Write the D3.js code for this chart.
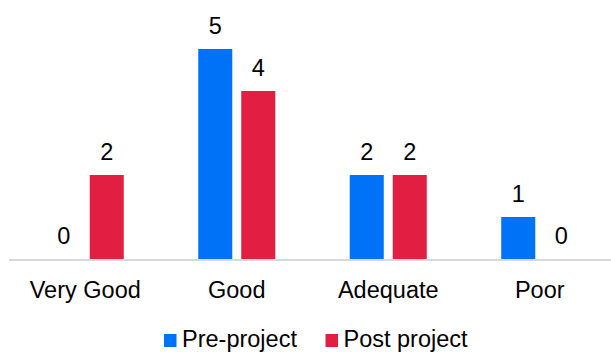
<!DOCTYPE html>
<html>
<head>
<meta charset="utf-8">
<script src="https://cdn.jsdelivr.net/npm/d3@7"></script>
<style>
  body { margin: 0; background: #fff; }
  svg { display: block; font-family: "Liberation Sans", Arial, sans-serif; }
</style>
</head>
<body>
<div id="vis"></div>
<script>
var categories = ['Very Good', 'Good', 'Adequate', 'Poor'];
var seriesNames = ['Pre-project', 'Post project'];
var preProject = [0, 5, 2, 1];
var postProject = [2, 4, 2, 0];
var colors = ['#0072F7', '#E31E43'];

var width = 611;
var height = 352;
var baseY = 259;
var fontSize = 23.5;

var svg = d3.select('#vis')
  .append('svg')
  .attr('width', width)
  .attr('height', height);

var x0 = d3.scaleBand()
  .domain(categories)
  .range([9.5, 615.5]);

var x1 = d3.scaleBand()
  .domain(seriesNames)
  .range([0, x0.bandwidth()])
  .paddingInner(0.209)
  .paddingOuter(0.866);

var y = d3.scaleLinear()
  .domain([0, 5])
  .range([baseY, 49]);

var rows = categories.map(function (c, i) {
  return { cat: c, values: [preProject[i], postProject[i]] };
});

// axis line + category labels
var xAxis = svg.append('g')
  .attr('transform', 'translate(0,' + (baseY + 1) + ')')
  .call(d3.axisBottom(x0).tickSize(0).tickPadding(21));

xAxis.select('.domain')
  .attr('stroke', '#d9d9d9')
  .attr('stroke-width', 2)
  .attr('d', 'M' + 9 + ',0H' + width);

xAxis.selectAll('text')
  .attr('font-size', fontSize)
  .attr('font-family', '"Liberation Sans", Arial, sans-serif')
  .attr('fill', '#000');

var groups = svg.selectAll('.group')
  .data(rows)
  .enter()
  .append('g')
  .attr('class', 'group')
  .attr('transform', function (d) { return 'translate(' + x0(d.cat) + ',0)'; });

var cells = groups.selectAll('.cell')
  .data(function (d) {
    return d.values.map(function (v, i) { return { name: seriesNames[i], value: v, idx: i }; });
  })
  .enter()
  .append('g');

cells.filter(function (d) { return d.value > 0; })
  .append('rect')
  .attr('x', function (d) { return x1(d.name); })
  .attr('y', function (d) { return y(d.value); })
  .attr('width', x1.bandwidth())
  .attr('height', function (d) { return baseY - y(d.value); })
  .attr('fill', function (d) { return colors[d.idx]; });

cells.append('text')
  .attr('x', function (d) { return x1(d.name) + x1.bandwidth() / 2; })
  .attr('y', function (d) { return y(d.value) - 15.5; })
  .attr('text-anchor', 'middle')
  .attr('font-size', fontSize)
  .attr('fill', '#000')
  .text(function (d) { return d.value; });

// legend
var legendItems = [
  { name: seriesNames[0], color: colors[0], x: 164 },
  { name: seriesNames[1], color: colors[1], x: 325.5 }
];

var legend = svg.selectAll('.legend-item')
  .data(legendItems)
  .enter()
  .append('g')
  .attr('class', 'legend-item')
  .attr('transform', function (d) { return 'translate(' + d.x + ',0)'; });

legend.append('rect')
  .attr('x', 0)
  .attr('y', 334)
  .attr('width', 12.5)
  .attr('height', 13)
  .attr('fill', function (d) { return d.color; });

legend.append('text')
  .attr('x', 18)
  .attr('y', 346.5)
  .attr('font-size', fontSize)
  .attr('fill', '#000')
  .text(function (d) { return d.name; });
</script>
</body>
</html>
